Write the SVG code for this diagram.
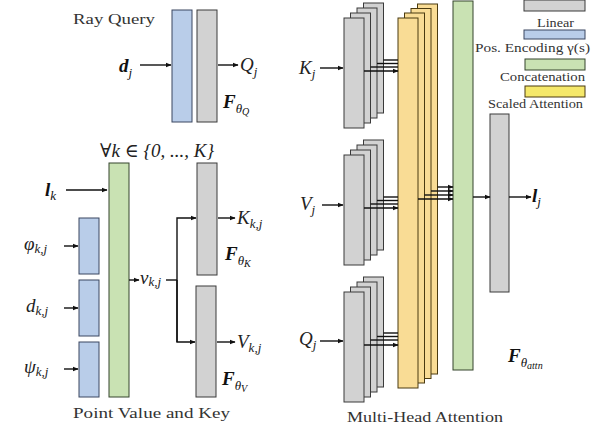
<svg xmlns="http://www.w3.org/2000/svg" width="595" height="432" viewBox="0 0 595 432" font-family="Liberation Serif, DejaVu Serif, serif">
<defs>
<marker id="ah" viewBox="0 0 10 10" refX="9" refY="5" markerWidth="6" markerHeight="6" orient="auto" markerUnits="userSpaceOnUse"><path d="M0,1 L10,5 L0,9 Z" fill="#111"/></marker>
</defs>
<style>
text{font-family:'Liberation Serif','DejaVu Serif',serif}
.gray{fill:#d2d2d2;stroke:#3a3a3a;stroke-width:1}
.blue{fill:#b9cde9;stroke:#3a4660;stroke-width:1}
.green{fill:#c9e2b3;stroke:#35452c;stroke-width:1}
.yel{fill:#f9dc95;stroke:#4a3a10;stroke-width:1}
.yl{fill:#f5e86a;stroke:#4a3a10;stroke-width:1}
.arr{stroke:#111;stroke-width:1.4;fill:none;marker-end:url(#ah)}
.ln{stroke:#111;stroke-width:1.4;fill:none}
.cap{font-size:15px;fill:#333}
.leg{font-size:12px;fill:#333}
.m{font-style:italic;font-size:19px;fill:#222}
.mb{font-style:italic;font-weight:bold;font-size:19px;fill:#111}
.s{font-size:13px;font-weight:normal}
.ss{font-size:10px;font-weight:normal}
</style>

<g id="legend" font-family="Liberation Serif">
<rect class="gray" x="524" y="0" width="61" height="11"/>
<text class="leg" font-family="Liberation Serif" x="537" y="27" textLength="37" lengthAdjust="spacingAndGlyphs">Linear</text>
<rect class="blue" x="524" y="30" width="61" height="9"/>
<text class="leg" font-family="Liberation Serif" x="475" y="52" textLength="115" lengthAdjust="spacingAndGlyphs">Pos. Encoding γ(s)</text>
<rect class="green" x="525" y="59" width="60" height="11"/>
<text class="leg" font-family="Liberation Serif" x="500" y="81" textLength="85" lengthAdjust="spacingAndGlyphs">Concatenation</text>
<rect class="yl" x="525" y="86" width="60" height="11"/>
<text class="leg" font-family="Liberation Serif" x="488" y="108" textLength="95" lengthAdjust="spacingAndGlyphs">Scaled Attention</text>
</g>

<g id="ray-query" font-family="Liberation Serif">
<text class="cap" font-family="Liberation Serif" x="73" y="24" textLength="82" lengthAdjust="spacingAndGlyphs">Ray Query</text>
<rect class="blue" x="172" y="10" width="20" height="112"/>
<rect class="gray" x="197" y="10" width="20" height="112"/>
<text class="mb" font-family="Liberation Serif" x="119" y="72">d<tspan class="s" dy="5">j</tspan></text>
<text class="m" font-family="Liberation Serif" x="240" y="71">Q<tspan class="s" dy="5">j</tspan></text>
<text class="mb" font-family="Liberation Serif" x="223" y="108">F<tspan class="s" dy="5">θ</tspan><tspan class="ss" dy="2">Q</tspan></text>
</g>

<g id="point-value-key" font-family="Liberation Serif">
<text class="m" font-family="Liberation Serif" x="100" y="157" font-size="17" font-style="normal" fill="#444">∀<tspan font-style="italic">k</tspan> ∈ {0, ..., <tspan font-style="italic">K</tspan>}</text>
<rect class="green" x="109" y="163" width="20" height="234"/>
<rect class="blue" x="79" y="218" width="20" height="56"/>
<rect class="blue" x="79" y="280" width="20" height="56"/>
<rect class="blue" x="79" y="342" width="20" height="55"/>
<rect class="gray" x="197" y="163" width="20" height="112"/>
<rect class="gray" x="196" y="286" width="20" height="111"/>
<text class="mb" font-family="Liberation Serif" x="45" y="196">l<tspan class="s" dy="4">k</tspan></text>
<text class="m" font-family="Liberation Serif" x="24" y="250">φ<tspan class="s" dy="3">k,j</tspan></text>
<text class="m" font-family="Liberation Serif" x="26" y="312">d<tspan class="s" dy="3">k,j</tspan></text>
<text class="m" font-family="Liberation Serif" x="24" y="373">ψ<tspan class="s" dy="3">k,j</tspan></text>
<text class="m" font-family="Liberation Serif" x="140" y="284" font-size="15">v<tspan class="s" dy="2">k,j</tspan></text>
<text class="m" font-family="Liberation Serif" x="237" y="224">K<tspan class="s" dy="4">k,j</tspan></text>
<text class="m" font-family="Liberation Serif" x="237" y="348">V<tspan class="s" dy="4">k,j</tspan></text>
<text class="mb" font-family="Liberation Serif" x="225" y="260">F<tspan class="s" dy="5">θ</tspan><tspan class="ss" dy="2">K</tspan></text>
<text class="mb" font-family="Liberation Serif" x="222" y="385">F<tspan class="s" dy="5">θ</tspan><tspan class="ss" dy="2">V</tspan></text>
<text class="cap" font-family="Liberation Serif" x="73" y="418" textLength="157" lengthAdjust="spacingAndGlyphs">Point Value and Key</text>
</g>

<g id="mha-k">
<rect class="gray" x="363.5" y="3" width="20" height="110"/>
<rect class="gray" x="357" y="8" width="20" height="110"/>
<rect class="gray" x="350.5" y="13" width="20" height="110"/>
<rect class="gray" x="344" y="18" width="20" height="110"/>
<text class="m" font-family="Liberation Serif" x="299" y="74">K<tspan class="s" dy="4">j</tspan></text>
</g>
<g id="mha-v">
<rect class="gray" x="363.5" y="140" width="20" height="110"/>
<rect class="gray" x="357" y="145" width="20" height="110"/>
<rect class="gray" x="350.5" y="150" width="20" height="110"/>
<rect class="gray" x="344" y="155" width="20" height="110"/>
<text class="m" font-family="Liberation Serif" x="300" y="210">V<tspan class="s" dy="4">j</tspan></text>
</g>
<g id="mha-q">
<rect class="gray" x="363.5" y="277" width="20" height="110"/>
<rect class="gray" x="357" y="282" width="20" height="110"/>
<rect class="gray" x="350.5" y="287" width="20" height="110"/>
<rect class="gray" x="344" y="292" width="20" height="110"/>
<text class="m" font-family="Liberation Serif" x="299" y="345">Q<tspan class="s" dy="4">j</tspan></text>
</g>
<g id="scaled-attention">
<rect class="yel" x="417.5" y="4" width="20" height="370"/>
<rect class="yel" x="411" y="8.5" width="20" height="370"/>
<rect class="yel" x="404.5" y="13" width="20" height="370"/>
<rect class="yel" x="398" y="18" width="20" height="370"/>
</g>
<g id="concat">
<rect class="green" x="453" y="1" width="20" height="369"/>
</g>
<g id="out-linear">
<rect class="gray" x="490" y="114" width="19" height="178"/>
<text class="mb" font-family="Liberation Serif" x="532" y="202">l<tspan class="s" dy="4">j</tspan></text>
<text class="mb" font-family="Liberation Serif" x="508" y="362">F<tspan class="s" dy="5">θ</tspan><tspan class="ss" dy="2">attn</tspan></text>
<text class="cap" font-family="Liberation Serif" x="347" y="422" textLength="156" lengthAdjust="spacingAndGlyphs">Multi-Head Attention</text>
</g>

<g id="connectors">
<path class="arr" d="M140,65 H171"/>
<path class="arr" d="M218,65 H238"/>
<path class="arr" d="M66,190 H107"/>
<path class="arr" d="M64,246 H78"/>
<path class="arr" d="M64,308 H78"/>
<path class="arr" d="M64,369 H78"/>
<path class="arr" d="M129,280 H139"/>
<path class="ln" d="M166,280 H177"/>
<path class="arr" d="M177,342 V218 H196"/>
<path class="arr" d="M177,280 V342 H195"/>
<path class="arr" d="M218,218 H235"/>
<path class="arr" d="M217,342 H235"/>
<path class="arr" d="M320,68 H343"/>
<path class="arr" d="M322,205 H343"/>
<path class="arr" d="M320,341 H343"/>
<path class="ln" d="M383.5,60 H398"/>
<path class="ln" d="M377,63.5 H398"/>
<path class="ln" d="M370.5,67 H398"/>
<path class="arr" d="M364,71 H398"/>
<path class="ln" d="M383.5,197 H398"/>
<path class="ln" d="M377,200.5 H398"/>
<path class="ln" d="M370.5,204 H398"/>
<path class="arr" d="M364,208 H398"/>
<path class="ln" d="M383.5,333 H398"/>
<path class="ln" d="M377,336.5 H398"/>
<path class="ln" d="M370.5,340 H398"/>
<path class="arr" d="M364,345 H398"/>
<path class="arr" d="M437.5,187 H453"/>
<path class="arr" d="M431,191 H453"/>
<path class="arr" d="M424.5,195 H453"/>
<path class="arr" d="M418,199 H453"/>
<path class="arr" d="M473,197 H490"/>
<path class="arr" d="M509,197 H531"/>
</g>
</svg>
